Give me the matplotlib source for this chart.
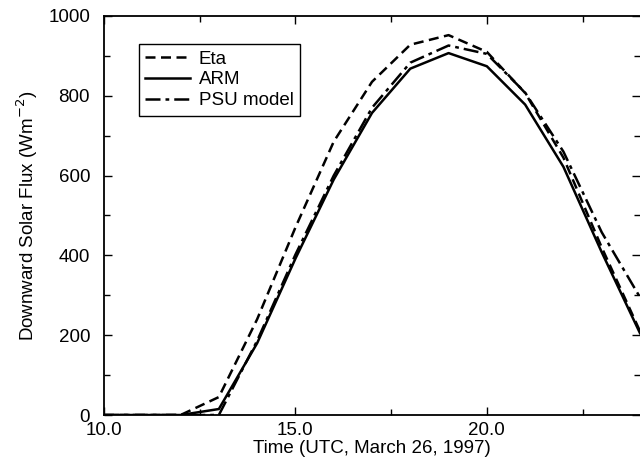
import matplotlib
matplotlib.use('Agg')
import matplotlib.pyplot as plt
import matplotlib.transforms as mtransforms
from matplotlib.ticker import MultipleLocator, FormatStrFormatter

plt.rcParams['font.family'] = ['Liberation Sans', 'DejaVu Sans']

# hourly values, UTC
hours = [10, 11, 12, 13, 14, 15, 16, 17, 18, 19, 20, 21, 22, 23, 24]
eta = [0, 0, 0, 45, 240, 470, 685, 835, 928, 952, 910, 807, 645, 420, 210]
arm = [0, 0, 0, 15, 180, 392, 590, 757, 868, 907, 874, 778, 622, 408, 205]
psu = [0, 0, 0, 0, 186, 402, 600, 770, 883, 926, 905, 808, 660, 458, 295]

fig = plt.figure(figsize=(6.4, 4.7), dpi=100)
ax = fig.add_axes([0.1625, 0.117, 0.8375, 0.849])

ax.plot(hours, eta, color='black', lw=1.8, dashes=(4, 2.2), label='Eta')
ax.plot(hours, arm, color='black', lw=1.8, label='ARM')
ax.plot(hours, psu, color='black', lw=1.8, dashes=(6, 2, 1.5, 2), label='PSU model')

ax.set_xlim(10, 24)
ax.set_ylim(0, 1000)
ax.xaxis.set_major_locator(MultipleLocator(5))
ax.xaxis.set_minor_locator(MultipleLocator(2.5))
ax.xaxis.set_major_formatter(FormatStrFormatter('%.1f'))
ax.yaxis.set_major_locator(MultipleLocator(200))
ax.yaxis.set_minor_locator(MultipleLocator(100))

ax.tick_params(which='both', direction='in', top=True, right=True,
               labelsize=13.5, width=1)
ax.tick_params(which='major', length=6)
ax.tick_params(which='minor', length=4)
ax.tick_params(axis='x', pad=5)
ax.tick_params(axis='y', pad=10)
for s in ax.spines.values():
    s.set_linewidth(1.3)
ax.spines['right'].set_visible(False)

# nudge the "0" label up a little so it clears "10.0"
fig.canvas.draw()
lab0 = ax.yaxis.get_majorticklabels()[0]
lab0.set_transform(lab0.get_transform() +
                   mtransforms.ScaledTranslation(0, 3 / 72, fig.dpi_scale_trans))

ax.set_xlabel('Time (UTC, March 26, 1997)', fontsize=13.5, labelpad=1)
ax.set_ylabel('Downward Solar Flux (Wm$^{-2}$)', fontsize=13.5, labelpad=6)

leg = ax.legend(loc='upper left', bbox_to_anchor=(0.065, 0.93), fontsize=13.5,
                fancybox=False, framealpha=1, edgecolor='black',
                handlelength=2.4, borderpad=0.35, labelspacing=0.2,
                handletextpad=0.45, borderaxespad=0)
leg.get_frame().set_linewidth(1)

fig.savefig('out.png', dpi=100)
